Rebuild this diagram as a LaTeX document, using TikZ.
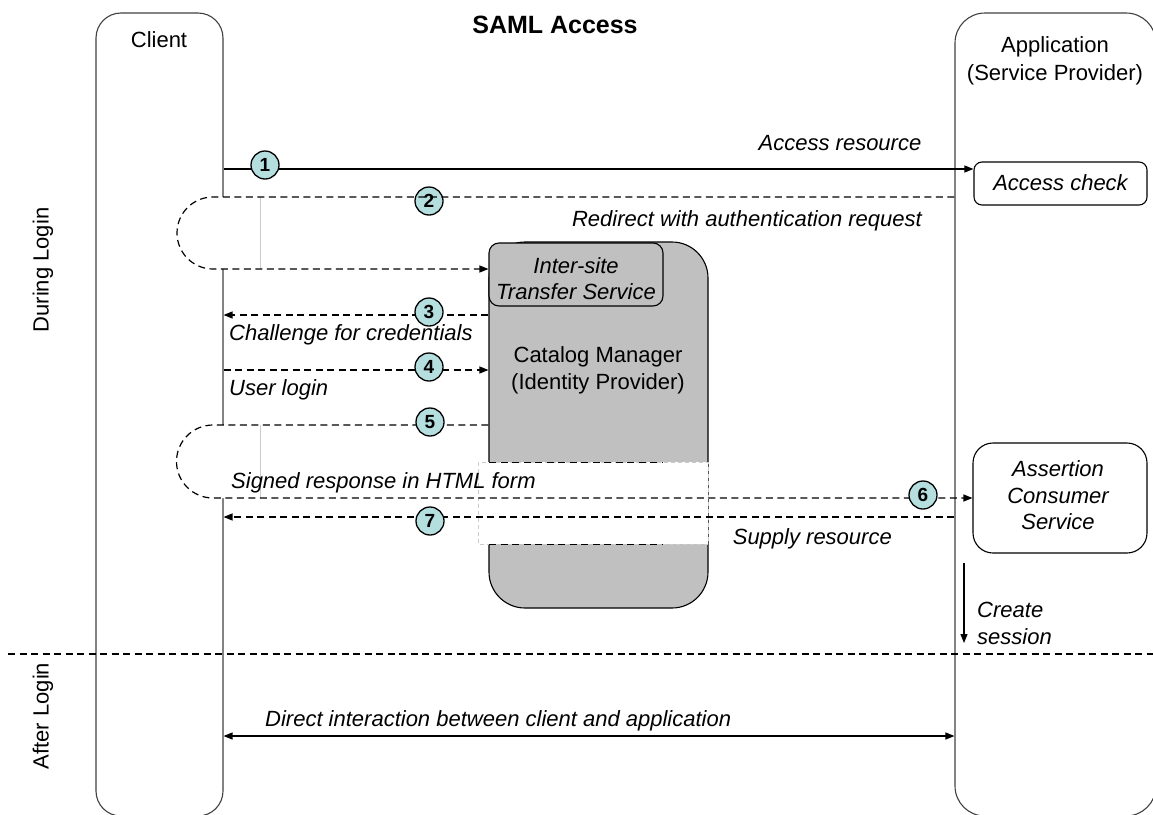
\documentclass[tikz,border=0pt]{standalone}
\usepackage{fontspec}
\setmainfont{Liberation Sans}
\usetikzlibrary{arrows.meta}
\definecolor{numfill}{HTML}{B5DEDF}
\definecolor{idpgray}{HTML}{C0C0C0}
\begin{document}
\begin{tikzpicture}[x=1pt,y=-1pt,
  lane/.style={draw=black!75, line width=1.1pt, inner sep=0pt},
  box/.style={draw=black, line width=1.1pt, rounded corners=#1, inner sep=0pt},
  txt/.style={inner sep=0pt, font=\fontsize{22}{27}\selectfont},
  itxt/.style={inner sep=0pt, font=\fontsize{22}{27}\selectfont\itshape},
  num/.style={circle, draw=black, line width=1.3pt, fill=numfill, minimum size=28pt, inner sep=0pt, font=\fontsize{19}{19}\selectfont\bfseries},
  sol/.style={line width=1.2pt},
  dsh/.style={line width=1.2pt, dash pattern=on 7pt off 4.5pt},
  tip/.style={-{Triangle[length=9pt,width=7pt]}},
]
\path[use as bounding box, clip] (0,0) rectangle (1153,814);

% lanes
\node[lane, rounded corners=25pt, minimum width=127pt, minimum height=803pt] (client) at (159.5,414.5) {};
\node[lane, rounded corners=30pt, minimum width=201pt, minimum height=803pt] (app) at (1055.5,414.5) {};

\node[inner sep=0pt, font=\fontsize{25}{30}\selectfont\bfseries, anchor=base] (title) at (555,33) {SAML Access};
\node[txt, anchor=base] (clientlbl) at (159,47) {Client};
\node[txt, anchor=base] (applbl1) at (1055,52) {Application};
\node[txt, anchor=base] (applbl2) at (1055,80) {(Service Provider)};

% identity provider
\node[box=36pt, fill=idpgray, minimum width=219pt, minimum height=366pt] (idp) at (598.5,425) {};
\node[box=10pt, fill=idpgray, minimum width=174pt, minimum height=63pt] (ist) at (576,274.5) {};
\node[itxt, anchor=base] (istlbl1) at (576,273) {Inter-site};
\node[itxt, anchor=base] (istlbl2) at (576,299) {Transfer Service};
\node[txt, anchor=base] (idplbl1) at (598,362) {Catalog Manager};
\node[txt, anchor=base] (idplbl2) at (598,389) {(Identity Provider)};

% white cut-out
\path[fill=white, draw=black!20, line width=0.8pt, dash pattern=on 4pt off 3pt] (478,462) rectangle (708,544);
\draw[dsh, line width=1pt] (489,462) -- (663,462);
\draw[dsh, line width=1pt] (489,544) -- (663,544);

% service provider boxes
\node[box=8pt, minimum width=173pt, minimum height=43pt] (chk) at (1060.5,183.5) {};
\node[itxt, anchor=base] (chklbl) at (1060.5,190) {Access check};
\node[box=20pt, minimum width=174pt, minimum height=110pt] (acs) at (1060,498) {};
\node[itxt, anchor=base] (acslbl1) at (1058,476) {Assertion};
\node[itxt, anchor=base] (acslbl2) at (1058,503) {Consumer};
\node[itxt, anchor=base] (acslbl3) at (1058,529) {Service};

% loop backgrounds
\fill[white] (260,197) -- (213,197) arc[start angle=270, end angle=90, radius=36] -- (260,269) -- cycle;
\draw[black!20, line width=0.8pt] (260,197) -- (260,269);
\fill[white] (260,425) -- (213,425) arc[start angle=270, end angle=90, radius=36.5] -- (260,498) -- cycle;
\draw[black!20, line width=0.8pt] (260,425) -- (260,498);

% level coordinates
\coordinate (y1) at (0,169);
\coordinate (y2) at (213,197);
\coordinate (y2b) at (213,269);
\coordinate (y3) at (0,315);
\coordinate (y4) at (0,370);
\coordinate (y5) at (213,425);
\coordinate (y6) at (213,498);
\coordinate (y7) at (0,517);
\coordinate (y8) at (0,736);

% 1
\draw[sol, tip] (client.east |- y1) -- (chk.west |- y1);
\node[num] (n1) at (265,165) {1};
% 2
\node[num] (n2) at (429,201) {2};
\draw[dsh, tip] (app.west |- y2) -- (y2) arc[start angle=270, end angle=90, radius=36] -- (idp.west |- y2b);
% 3
\draw[dsh, tip] (idp.west |- y3) -- (client.east |- y3);
\node[num] (n3) at (429,312) {3};
% 4
\draw[dsh, tip] (client.east |- y4) -- (idp.west |- y4);
\node[num] (n4) at (429,367) {4};
% 5 / 6
\draw[dsh, tip] (idp.west |- y5) -- (y5) arc[start angle=270, end angle=90, radius=36.5] -- (acs.west |- y6);
\node[num] (n5) at (430,422) {5};
\node[num] (n6) at (923,495) {6};
% 7
\draw[dsh, tip] (app.west |- y7) -- (client.east |- y7);
\node[num] (n7) at (430,521) {7};

% create session
\coordinate (cs1) at (964,563);
\coordinate (cs2) at (964,643);
\draw[sol, tip] (cs1) -- (cs2);
\node[itxt, anchor=base west] (cslbl1) at (977,617) {Create};
\node[itxt, anchor=base west] (cslbl2) at (977,644) {session};

% separator
\coordinate (sepL) at (8,654);
\coordinate (sepR) at (1153,654);
\draw[dsh, line width=1.1pt] (sepL) -- (sepR);

% direct interaction
\draw[sol, {Triangle[length=9pt,width=7pt]}-{Triangle[length=9pt,width=7pt]}] (client.east |- y8) -- (app.west |- y8);

% message labels
\node[itxt, anchor=base] (l1) at (840,150) {Access resource};
\node[itxt, anchor=base east] (l2) at (922,226) {Redirect with authentication request};
\node[itxt, anchor=base west] (l3) at (229,340) {Challenge for credentials};
\node[itxt, anchor=base west] (l4) at (229,395) {User login};
\node[itxt, anchor=base west] (l6) at (231,488) {Signed response in HTML form};
\node[itxt, anchor=base east] (l7) at (892,544) {Supply resource};
\node[itxt, anchor=base west] (l8) at (265,726) {Direct interaction between client and application};

% phase labels
\node[txt, rotate=90] (dl) at (43,270) {During Login};
\node[txt, rotate=90] (al) at (43,716) {After Login};
\end{tikzpicture}
\end{document}
